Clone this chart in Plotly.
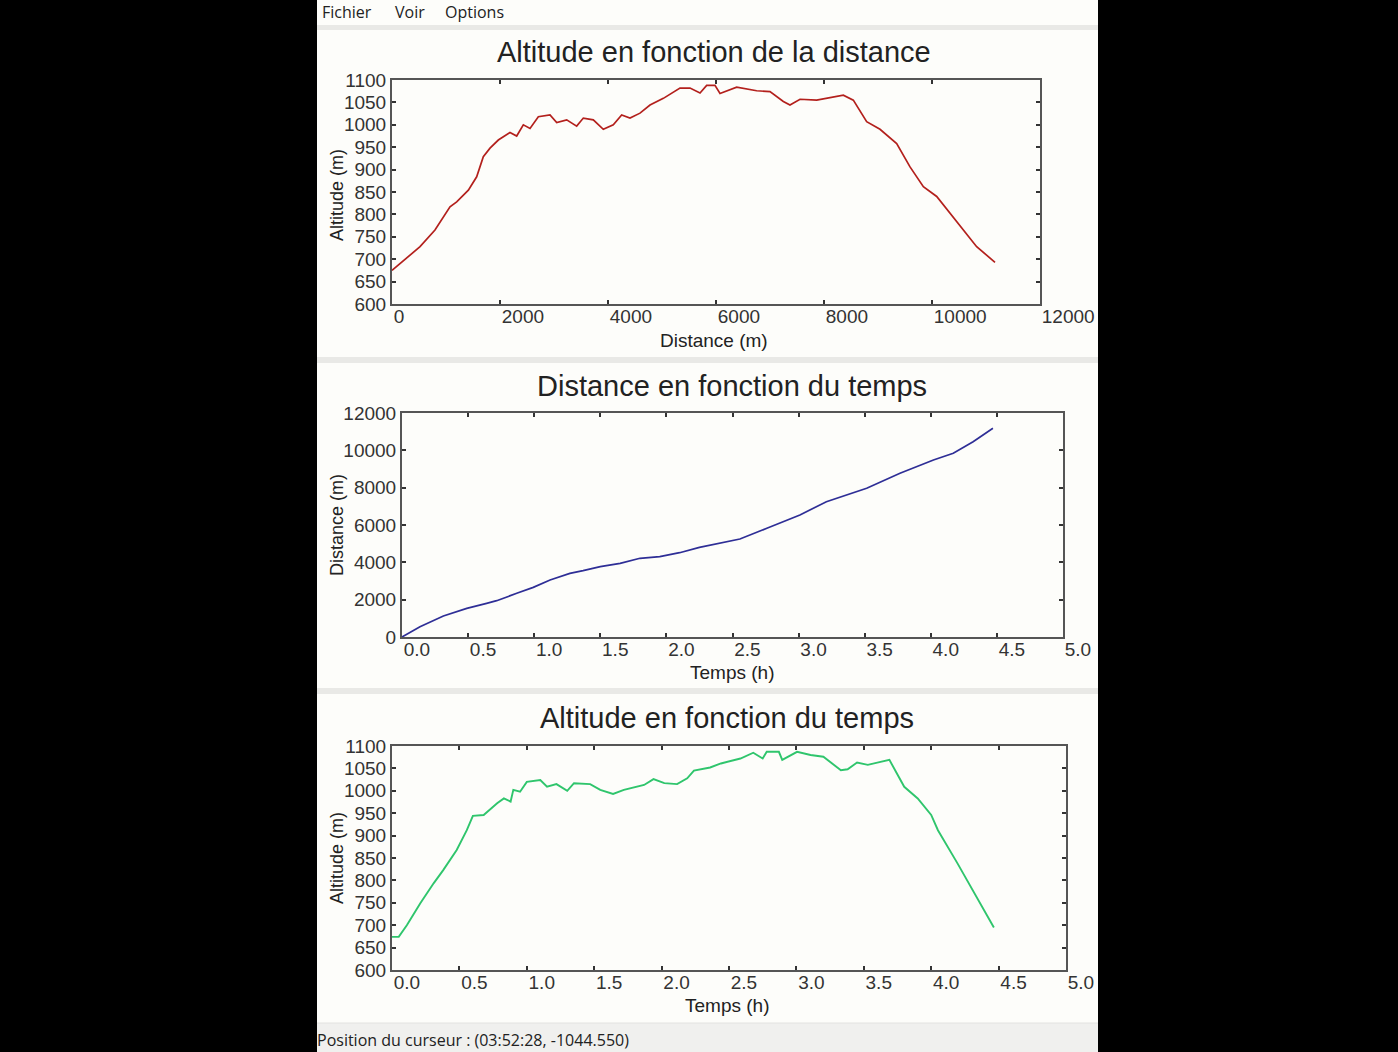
import plotly.graph_objects as go

# ---------------- data ----------------
dist1 = [0, 272, 519, 796, 1074, 1198, 1414, 1568, 1691, 1815, 1969, 2185, 2309, 2432, 2556,
         2710, 2926, 3050, 3235, 3420, 3543, 3728, 3913, 4098, 4253, 4407, 4593, 4778, 5025,
         5333, 5519, 5704, 5827, 5981, 6074, 6383, 6753, 7000, 7247, 7370, 7556, 7864, 8111,
         8358, 8543, 8790, 9037, 9346, 9593, 9840, 10087, 10333, 10580, 10827, 11167]
alt1 = [675, 702, 728, 765, 817, 828, 854, 884, 929, 948, 966, 983, 975, 1000, 992,
        1018, 1022, 1005, 1011, 997, 1015, 1011, 990, 1000, 1022, 1015, 1026, 1044, 1059,
        1082, 1082, 1071, 1088, 1088, 1070, 1084, 1076, 1074, 1052, 1044, 1057, 1055, 1061,
        1066, 1055, 1007, 990, 958, 906, 862, 840, 802, 765, 728, 693]

time2 = [0, 0.136, 0.313, 0.49, 0.64, 0.716, 0.868, 0.993, 1.12, 1.27, 1.37, 1.50, 1.65,
         1.80, 1.95, 2.10, 2.25, 2.405, 2.556, 2.76, 3.01, 3.21, 3.515, 3.767, 4.02, 4.17,
         4.32, 4.47]
dist2 = [0, 553, 1125, 1535, 1805, 1945, 2340, 2660, 3054, 3411, 3553, 3767, 3948,
         4216, 4302, 4516, 4800, 5020, 5250, 5823, 6536, 7249, 7966, 8770, 9482, 9840,
         10462, 11180]

time3 = [0, 0.05, 0.11, 0.21, 0.31, 0.38, 0.48, 0.555, 0.60, 0.68, 0.78, 0.83, 0.88, 0.90,
         0.95, 1.00, 1.10, 1.15, 1.22, 1.30, 1.35, 1.47, 1.545, 1.64, 1.72, 1.87, 1.94, 2.02,
         2.115, 2.19, 2.24, 2.36, 2.44, 2.585, 2.68, 2.75, 2.78, 2.87, 2.895, 3.005, 3.105,
         3.20, 3.33, 3.38, 3.45, 3.53, 3.60, 3.69, 3.80, 3.90, 4.00, 4.05, 4.195, 4.32, 4.465]
alt3 = [674, 674, 700, 749, 794, 823, 868, 912, 944, 946, 972, 983, 976, 1002,
        998, 1020, 1024, 1009, 1015, 1000, 1017, 1015, 1002, 993, 1002, 1013, 1026, 1017,
        1015, 1028, 1045, 1052, 1061, 1072, 1085, 1072, 1087, 1087, 1069, 1087, 1080,
        1076, 1046, 1048, 1063, 1058, 1063, 1069, 1009, 983, 946, 912, 838, 771, 695]

dist_ticks = [0, 2000, 4000, 6000, 8000, 10000, 12000]
alt_ticks = [600, 650, 700, 750, 800, 850, 900, 950, 1000, 1050, 1100]
distv_ticks = [0, 2000, 4000, 6000, 8000, 10000, 12000]
time_ticks = [0.0, 0.5, 1.0, 1.5, 2.0, 2.5, 3.0, 3.5, 4.0, 4.5, 5.0]
time_labels = ["%.1f" % t for t in time_ticks]

titles = ["Altitude en fonction de la distance", "Distance en fonction du temps",
          "Altitude en fonction du temps"]
xtitles = ["Distance (m)", "Temps (h)", "Temps (h)"]
ytitles = ["Altitude (m)", "Distance (m)", "Altitude (m)"]

# ---------------- layout helpers ----------------
W, H = 1398, 1052
def fx(px):
    return px / W
def fy(py):
    return 1 - py / H

FONT = "Arial"
UI_FONT = "Open Sans"
PANEL_BG = "#fdfdfa"
TXT = "#222222"

fig = go.Figure()
fig.add_trace(go.Scatter(x=dist1, y=alt1, mode="lines", line=dict(color="#b3201c", width=1.7),
                         xaxis="x", yaxis="y", showlegend=False))
fig.add_trace(go.Scatter(x=time2, y=dist2, mode="lines", line=dict(color="#2e2e96", width=1.7),
                         xaxis="x2", yaxis="y2", showlegend=False))
fig.add_trace(go.Scatter(x=time3, y=alt3, mode="lines", line=dict(color="#2fc56c", width=1.9),
                         xaxis="x3", yaxis="y3", showlegend=False))

axis_common = dict(showline=True, linecolor="#555555", linewidth=2, mirror="ticks",
                   ticks="inside", ticklen=4, tickwidth=1.5, tickcolor="#333333",
                   showgrid=False, zeroline=False, automargin=False,
                   tickfont=dict(family=FONT, size=19, color="#333333"))

# pixel boxes of the three plot areas: (left, right, top, bottom)
boxes = [(392, 1040, 80, 304), (402, 1063, 413, 637), (392, 1066, 746, 970)]

layout = dict(width=W, height=H, margin=dict(l=0, r=0, t=0, b=0),
              paper_bgcolor="#000000", plot_bgcolor=PANEL_BG, showlegend=False)

xcfg = [dict(range=[0, 12000], tickvals=dist_ticks, ticktext=[str(v) for v in dist_ticks]),
        dict(range=[0, 5], tickvals=time_ticks, ticktext=time_labels),
        dict(range=[0, 5], tickvals=time_ticks, ticktext=time_labels)]
ycfg = [dict(range=[600, 1100], tickvals=alt_ticks, ticktext=[str(v) for v in alt_ticks]),
        dict(range=[0, 12000], tickvals=distv_ticks, ticktext=[str(v) for v in distv_ticks]),
        dict(range=[600, 1100], tickvals=alt_ticks, ticktext=[str(v) for v in alt_ticks])]

for i, (l, r, t, b) in enumerate(boxes):
    sx = "" if i == 0 else str(i + 1)
    xa = dict(axis_common, domain=[fx(l), fx(r)], anchor="y" + sx,
              ticklabelposition="outside right", ticklabelstandoff=-6, **xcfg[i])
    ya = dict(axis_common, domain=[fy(b), fy(t)], anchor="x" + sx, **ycfg[i])
    layout["xaxis" + sx] = xa
    layout["yaxis" + sx] = ya

# window background pieces
shapes = [
    dict(type="rect", xref="paper", yref="paper", x0=fx(317), x1=fx(1098), y0=fy(0), y1=fy(1052),
         fillcolor=PANEL_BG, line=dict(width=0), layer="below"),
]
for (a, bb) in [(25, 30), (357, 363), (688, 694)]:
    shapes.append(dict(type="rect", xref="paper", yref="paper", x0=fx(317), x1=fx(1098),
                       y0=fy(bb), y1=fy(a), fillcolor="#e9e9e6", line=dict(width=0), layer="below"))
shapes.append(dict(type="rect", xref="paper", yref="paper", x0=fx(317), x1=fx(1098),
                   y0=fy(1052), y1=fy(1023), fillcolor="#f0f0ee", line=dict(width=0), layer="below"))
shapes.append(dict(type="line", xref="paper", yref="paper", x0=fx(317), x1=fx(1098),
                   y0=fy(1023), y1=fy(1023), line=dict(color="#e2e2e0", width=1), layer="below"))
layout["shapes"] = shapes

ann = []
title_pos = [(714, 52), (732, 386), (727, 718)]
xt_pos = [(714, 340), (732, 672), (727, 1005)]
yt_pos = [(337, 195), (337, 525), (337, 858)]
for i in range(3):
    ann.append(dict(text=titles[i], x=fx(title_pos[i][0]), y=fy(title_pos[i][1]), xref="paper",
                    yref="paper", showarrow=False, xanchor="center", yanchor="middle",
                    font=dict(family=FONT, size=29, color=TXT)))
    ann.append(dict(text=xtitles[i], x=fx(xt_pos[i][0]), y=fy(xt_pos[i][1]), xref="paper",
                    yref="paper", showarrow=False, xanchor="center", yanchor="middle",
                    font=dict(family=FONT, size=19, color=TXT)))
    ann.append(dict(text=ytitles[i], x=fx(yt_pos[i][0]), y=fy(yt_pos[i][1]), xref="paper",
                    yref="paper", showarrow=False, xanchor="center", yanchor="middle",
                    textangle=-90, font=dict(family=FONT, size=18, color=TXT)))

menu = [("Fichier", 320), ("Voir", 393), ("Options", 443)]
for txt, px in menu:
    ann.append(dict(text=txt, x=fx(px), y=fy(12), xref="paper", yref="paper", showarrow=False,
                    xanchor="left", yanchor="middle", font=dict(family=UI_FONT, size=16, color="#222222")))
ann.append(dict(text="Position du curseur : (03:52:28, -1044.550)", x=fx(315), y=fy(1040),
                xref="paper", yref="paper", showarrow=False, xanchor="left", yanchor="middle",
                font=dict(family=UI_FONT, size=16, color="#222222")))
layout["annotations"] = ann

fig.update_layout(**layout)
fig.write_html("out.html", config={"displayModeBar": False},
               post_script="document.body.style.margin='0';document.body.style.background='#000';")
